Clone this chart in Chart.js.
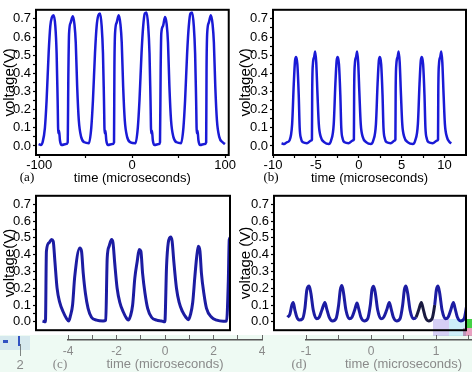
<!DOCTYPE html>
<html>
<head>
<meta charset="utf-8">
<script src="https://cdn.jsdelivr.net/npm/chart.js@4.4.0/dist/chart.umd.min.js"></script>
<style>
  body { margin: 0; background: #fff; overflow: hidden; }
  #fig { position: relative; width: 472px; height: 372px; overflow: hidden; }
  #fig canvas { position: absolute; }
  .strip { position: absolute; left: 0; top: 335px; width: 472px; height: 37px; background: #eefaf3; }
  .blk { position: absolute; mix-blend-mode: multiply; }
  .tag { position: absolute; font-family: 'Liberation Serif', 'Times New Roman', serif; font-size: 13px; transform: translate(-50%, -50%); white-space: nowrap; }
</style>
</head>
<body>
<div id="fig">
  <canvas id="pa" width="236" height="186" style="left:0;top:0"></canvas>
  <canvas id="pb" width="236" height="186" style="left:236px;top:0"></canvas>
  <canvas id="pc" width="236" height="154" style="left:0;top:186px"></canvas>
  <canvas id="pd" width="236" height="154" style="left:236px;top:186px"></canvas>
  <div class="strip"></div>
  <div class="blk" style="left:0;top:336px;width:30px;height:14px;background:#e6eefa"></div>
  <div class="blk" style="left:3px;top:340px;width:5px;height:3px;background:#3a5ad0"></div>
  <div class="blk" style="left:18px;top:336px;width:2px;height:10px;background:#3a5ad0"></div>
  <div class="blk" style="left:20px;top:344px;width:1px;height:12px;background:#888"></div>
  <div class="blk" style="left:433px;top:319px;width:16px;height:17px;background:#d6cff5"></div>
  <div class="blk" style="left:449px;top:319px;width:17px;height:17px;background:#cdeef9"></div>
  <div class="blk" style="left:466px;top:319px;width:6px;height:9px;background:#44d044"></div>
  <div class="blk" style="left:463px;top:328px;width:9px;height:8px;background:#e8a0c0"></div>
  <canvas id="sc" width="232" height="37" style="left:40px;top:335px"></canvas>
  <canvas id="sd" width="240" height="37" style="left:280px;top:335px"></canvas>
  <div class="tag" style="left:27px;top:177px">(a)</div>
  <div class="tag" style="left:271px;top:177px">(b)</div>
  <div class="tag" style="left:60px;top:364px;color:#888">(c)</div>
  <div class="tag" style="left:299px;top:364px;color:#888">(d)</div>
  <div class="tag" style="left:20px;top:364px;color:#888;font-family:'Liberation Sans',Arial,sans-serif">2</div>
</div>
<script>
// values (time in microseconds, voltage in V)
const timeA = [-100.7, -98.2, -96.4, -93.9, -92.1, -89.9, -88.1, -86.3, -84.5, -82.7, -81.3, -80.2, -79.5, -78.7, -77.7, -75.9, -71.2, -69.4,
  -68.6, -67.9, -66.1, -63.9, -62.1, -60.7, -59.2, -57.4, -54.9, -51.3,
  -46.5, -44.0, -42.2, -40.0, -38.2, -36.4, -34.6, -32.8, -31.4, -30.3, -29.6, -28.8, -27.8, -26.0, -21.3, -19.5,
  -19.1, -18.4, -16.6, -14.4, -12.6, -11.2, -9.7, -7.9, -5.4, -1.8,
  3.6, 6.1, 7.9, 10.1, 11.9, 13.7, 15.5, 17.3, 18.7, 19.8, 20.5, 21.3, 22.3, 24.1, 28.8, 30.0,
  30.7, 31.4, 33.2, 35.4, 37.2, 38.6, 40.1, 41.9, 44.4, 48.0,
  52.7, 55.2, 57.0, 59.2, 61.0, 62.8, 64.6, 66.4, 67.8, 68.9, 69.6, 70.4, 71.4, 73.2, 77.9, 79.7,
  80.1, 80.8, 82.6, 84.8, 86.6, 88.0, 89.5, 91.3, 93.8, 97.4, 100.0];
const voltageA = [0.01, 0.005, 0.02, 0.10, 0.25, 0.51, 0.66, 0.71, 0.72, 0.66, 0.51, 0.25, 0.07, 0.085, 0.03, 0.005, 0.01, 0.02,
  0.42, 0.62, 0.68, 0.715, 0.67, 0.57, 0.33, 0.14, 0.05, 0.02,
  0.015, 0.10, 0.25, 0.51, 0.66, 0.72, 0.73, 0.66, 0.51, 0.25, 0.07, 0.085, 0.03, 0.005, 0.01, 0.02,
  0.42, 0.62, 0.68, 0.72, 0.67, 0.57, 0.33, 0.14, 0.05, 0.02,
  0.015, 0.10, 0.25, 0.51, 0.66, 0.73, 0.735, 0.66, 0.51, 0.25, 0.07, 0.085, 0.03, 0.005, 0.01, 0.02,
  0.42, 0.62, 0.66, 0.71, 0.67, 0.57, 0.33, 0.14, 0.05, 0.02,
  0.015, 0.10, 0.25, 0.51, 0.66, 0.73, 0.735, 0.66, 0.51, 0.25, 0.07, 0.085, 0.03, 0.005, 0.01, 0.02,
  0.42, 0.62, 0.68, 0.72, 0.67, 0.57, 0.33, 0.14, 0.05, 0.02, 0.01];

const timeB = [-9.0, -8.7, -8.4,
  -8.08, -7.77, -7.58, -7.43, -7.31, -7.16, -7.0, -6.89, -6.73, -6.5, -6.04, -5.54,
  -5.46, -5.43, -5.35, -5.2, -5.08, -4.96, -4.81, -4.66, -4.43, -4.0, -3.5,
  -3.23, -2.92, -2.73, -2.58, -2.46, -2.31, -2.15, -2.04, -1.88, -1.65, -1.19, -0.69,
  -0.57, -0.54, -0.46, -0.31, -0.19, -0.07, 0.08, 0.23, 0.46, 0.89, 1.4,
  1.69, 2.0, 2.19, 2.34, 2.46, 2.61, 2.77, 2.88, 3.04, 3.27, 3.73, 4.2,
  4.27, 4.3, 4.38, 4.53, 4.65, 4.77, 4.92, 5.07, 5.3, 5.73, 6.3,
  6.58, 6.89, 7.08, 7.23, 7.35, 7.5, 7.66, 7.77, 7.93, 8.16, 8.62, 9.15,
  9.24, 9.27, 9.35, 9.5, 9.62, 9.74, 9.89, 10.04, 10.27, 10.6, 10.8];
const voltageB = [0.015, 0.01, 0.02,
  0.03, 0.12, 0.34, 0.47, 0.49, 0.45, 0.28, 0.10, 0.04, 0.02, 0.015, 0.03,
  0.035, 0.30, 0.45, 0.49, 0.52, 0.46, 0.28, 0.12, 0.05, 0.02, 0.01,
  0.03, 0.12, 0.34, 0.47, 0.49, 0.45, 0.28, 0.10, 0.04, 0.02, 0.015, 0.03,
  0.035, 0.30, 0.45, 0.49, 0.52, 0.46, 0.28, 0.12, 0.05, 0.02, 0.01,
  0.03, 0.12, 0.34, 0.47, 0.49, 0.45, 0.28, 0.10, 0.04, 0.02, 0.015, 0.03,
  0.035, 0.30, 0.45, 0.49, 0.52, 0.46, 0.28, 0.12, 0.05, 0.02, 0.01,
  0.03, 0.12, 0.34, 0.47, 0.49, 0.45, 0.28, 0.10, 0.04, 0.02, 0.015, 0.03,
  0.035, 0.30, 0.45, 0.49, 0.52, 0.46, 0.28, 0.12, 0.05, 0.02, 0.015];

const timeC = [-5.06, -4.94, -4.90, -4.79, -4.69, -4.62, -4.55, -4.46, -4.35, -4.21, -4.07, -3.98, -3.91, -3.82, -3.73,
  -3.52, -3.45, -3.38, -3.29, -3.18, -3.04, -2.83, -2.56, -2.45, -2.39, -2.31, -2.21, -2.15, -2.08, -1.98,
  -1.87, -1.73, -1.59, -1.52, -1.43, -1.34, -1.25, -1.15, -1.07, -1.00, -0.93, -0.83, -0.72, -0.56, -0.35,
  -0.15, -0.01, 0.06, 0.13, 0.23, 0.29, 0.36, 0.47, 0.58, 0.72, 0.86, 0.96, 1.05, 1.14, 1.23,
  1.30, 1.37, 1.44, 1.50, 1.60, 1.71, 1.92, 2.13, 2.40, 2.54, 2.61, 2.65, 2.70];
const voltageC = [0.005, 0.0, 0.42, 0.47, 0.49, 0.48, 0.36, 0.2, 0.115, 0.06, 0.02, 0.005, 0.035, 0.1, 0.27,
  0.44, 0.42, 0.29, 0.17, 0.08, 0.027, 0.01, 0.005, 0.01, 0.38, 0.45, 0.49, 0.47, 0.35, 0.2,
  0.115, 0.06, 0.02, 0.01, 0.035, 0.1, 0.26, 0.36, 0.43, 0.42, 0.29, 0.17, 0.08, 0.027, 0.01,
  0.005, 0.0, 0.33, 0.47, 0.505, 0.48, 0.36, 0.2, 0.115, 0.06, 0.027, 0.012, 0.044, 0.115, 0.27,
  0.38, 0.45, 0.42, 0.29, 0.17, 0.08, 0.027, 0.01, 0.004, 0.005, 0.24, 0.49, 0.5];

const timeD = [-1.282, -1.246, -1.215, -1.195, -1.169, -1.138, -1.103, -1.051, -1.015, -0.985,
  -0.949, -0.923, -0.887, -0.836, -0.795, -0.754, -0.708, -0.682, -0.641, -0.590,
  -0.538, -0.497, -0.472, -0.446, -0.421, -0.385, -0.333, -0.292, -0.251, -0.215,
  -0.190, -0.154, -0.103, -0.051, -0.010, 0.015, 0.041, 0.067, 0.103, 0.154,
  0.195, 0.241, 0.282, 0.308, 0.344, 0.395, 0.446, 0.487, 0.513, 0.538,
  0.564, 0.600, 0.651, 0.692, 0.733, 0.774, 0.800, 0.836, 0.887, 0.938,
  0.979, 1.005, 1.031, 1.056, 1.092, 1.144, 1.185, 1.226, 1.267, 1.292,
  1.328, 1.379, 1.431, 1.472];
const voltageD = [0.027, 0.045, 0.1, 0.115, 0.07, 0.027, 0.01, 0.018, 0.08, 0.19,
  0.213, 0.17, 0.07, 0.018, 0.027, 0.07, 0.115, 0.08, 0.027, 0.005,
  0.018, 0.1, 0.19, 0.216, 0.17, 0.07, 0.018, 0.027, 0.07, 0.112,
  0.08, 0.027, 0.005, 0.018, 0.1, 0.19, 0.212, 0.17, 0.07, 0.018,
  0.027, 0.07, 0.115, 0.08, 0.027, 0.005, 0.018, 0.1, 0.19, 0.213,
  0.17, 0.07, 0.018, 0.027, 0.07, 0.115, 0.08, 0.027, 0.005, 0.018,
  0.1, 0.19, 0.213, 0.17, 0.07, 0.018, 0.027, 0.07, 0.115, 0.08,
  0.027, 0.005, 0.018, 0.1];

// tick values (labelled ones and unlabelled minor ones)
const voltageTicks = [0, 0.1, 0.2, 0.3, 0.4, 0.5, 0.6, 0.7];
const voltageMinor = [0.05, 0.15, 0.25, 0.35, 0.45, 0.55, 0.65];
const timeTicksA = [-100, 0, 100];
const timeMinorA = [-50, 50];
const timeTicksB = [-10, -5, 0, 5, 10];
const timeMinorB = [-7.5, -2.5, 2.5, 7.5];
const timeTicksC = [-4, -2, 0, 2, 4];
const timeMinorC = [-3, -1, 1, 3];
const timeTicksD = [-1, 0, 1];
const timeMinorD = [-0.5, 0.5, 1.5];

const FONT = "'Liberation Sans', Arial, Helvetica, sans-serif";

function tickList(major, minor) {
  return major.concat(minor).sort((a, b) => a - b).map(v => ({ value: v }));
}

const framePlugin = {
  id: 'frame',
  afterDraw(chart) {
    const a = chart.chartArea;
    const ctx = chart.ctx;
    ctx.save();
    ctx.strokeStyle = '#000';
    ctx.lineWidth = 2;
    ctx.strokeRect(a.left, a.top, a.right - a.left, a.bottom - a.top);
    ctx.restore();
  }
};

function makePanel(id, xs, ys, o) {
  const pts = xs.map((x, i) => ({ x: x, y: ys[i] }));
  return new Chart(document.getElementById(id), {
    type: 'line',
    data: {
      datasets: [{
        data: pts,
        borderColor: o.color,
        borderWidth: o.width,
        pointRadius: 0,
        cubicInterpolationMode: 'monotone',
        segment: o.segment || {}
      }]
    },
    options: {
      responsive: false,
      animation: false,
      events: [],
      layout: { padding: o.padding },
      plugins: { legend: { display: false }, tooltip: { enabled: false } },
      scales: {
        x: {
          type: 'linear',
          display: o.showX,
          min: o.xMin,
          max: o.xMax,
          afterBuildTicks: s => { s.ticks = tickList(o.xTicks || [], o.xMinor || []); },
          afterFit: s => { s.height = o.showX ? 31 : 0; },
          grid: { drawOnChartArea: false, tickLength: 3, color: '#000', tickColor: '#000', tickWidth: 1.2 },
          border: { display: false },
          ticks: {
            autoSkip: false, maxRotation: 0, padding: 0, color: '#000',
            font: { family: FONT, size: 13 },
            callback: v => (o.xTicks || []).includes(v) ? String(v) : ''
          },
          title: {
            display: true, text: 'time (microseconds)', color: '#000',
            font: { family: FONT, size: 13 }, padding: { top: 0, bottom: 0 }
          }
        },
        y: {
          min: -0.05,
          max: 0.75,
          afterBuildTicks: s => { s.ticks = tickList(voltageTicks, voltageMinor); },
          afterFit: s => { s.width = o.yWidth; },
          grid: { drawOnChartArea: false, tickLength: 3, color: '#000', tickColor: '#000', tickWidth: 1.2 },
          border: { display: false },
          ticks: {
            autoSkip: false, padding: 2, color: '#000',
            font: { family: FONT, size: 13 },
            callback: v => voltageTicks.includes(v) ? v.toFixed(1) : ''
          },
          title: {
            display: true, text: o.yTitle, color: '#000',
            font: { family: FONT, size: 15 }, padding: { top: 1, bottom: 0 }
          }
        }
      }
    },
    plugins: [framePlugin]
  });
}

function makeStripAxis(id, ticks, minor, min, max, pad) {
  return new Chart(document.getElementById(id), {
    type: 'line',
    data: { datasets: [] },
    options: {
      responsive: false,
      animation: false,
      events: [],
      layout: { padding: pad },
      plugins: { legend: { display: false }, tooltip: { enabled: false } },
      scales: {
        x: {
          type: 'linear',
          min: min,
          max: max,
          afterBuildTicks: s => { s.ticks = tickList(ticks, minor); },
          afterFit: s => { s.height = 32; },
          grid: { drawOnChartArea: true, drawTicks: false, color: '#666', lineWidth: 1 },
          border: { display: true, color: '#555', width: 1.5 },
          ticks: {
            autoSkip: false, maxRotation: 0, padding: 4, color: '#8a8a8a',
            font: { family: FONT, size: 12 },
            callback: v => ticks.includes(v) ? String(v) : ''
          },
          title: {
            display: true, text: 'time (microseconds)', color: '#8a8a8a',
            font: { family: FONT, size: 13 }, padding: { top: 0, bottom: 0 }
          }
        },
        y: { display: false, min: 0, max: 1 }
      }
    }
  });
}

makePanel('pa', timeA, voltageA, {
  color: '#1a1ad6', width: 2.5, showX: true, xMin: -103.5, xMax: 104,
  xTicks: timeTicksA, xMinor: timeMinorA, yWidth: 36, yTitle: 'voltage(V)',
  padding: { top: 6, right: 7, bottom: 0, left: 0 }
});
makePanel('pb', timeB, voltageB, {
  color: '#1a1ad6', width: 2.5, showX: true, xMin: -10, xMax: 12.5,
  xTicks: timeTicksB, xMinor: timeMinorB, yWidth: 37, yTitle: 'voltage(V)',
  padding: { top: 7, right: 6, bottom: 0, left: 0 }
});
makePanel('pc', timeC, voltageC, {
  color: '#1c1ca2', width: 3, showX: false, xMin: -5.33, xMax: 2.68,
  yWidth: 36, yTitle: 'voltage(V)',
  padding: { top: 6, right: 6, bottom: 0, left: 0 }
});
makePanel('pd', timeD, voltageD, {
  color: '#1c1ca2', width: 3, showX: false, xMin: -1.49, xMax: 1.46,
  yWidth: 38, yTitle: 'voltage (V)',
  padding: { top: 6, right: 6, bottom: 0, left: 0 },
  segment: { borderColor: c => (c.p0.parsed.x > 0.66 && c.p0.parsed.x < 0.95) ? '#1a1a40' : undefined }
});

makeStripAxis('sc', timeTicksC, timeMinorC, -4, 4, { left: 28, right: 10, top: 0, bottom: 0 });
makeStripAxis('sd', timeTicksD, timeMinorD, -1, 2, { left: 26, right: 19, top: 0, bottom: 0 });
</script>
</body>
</html>
